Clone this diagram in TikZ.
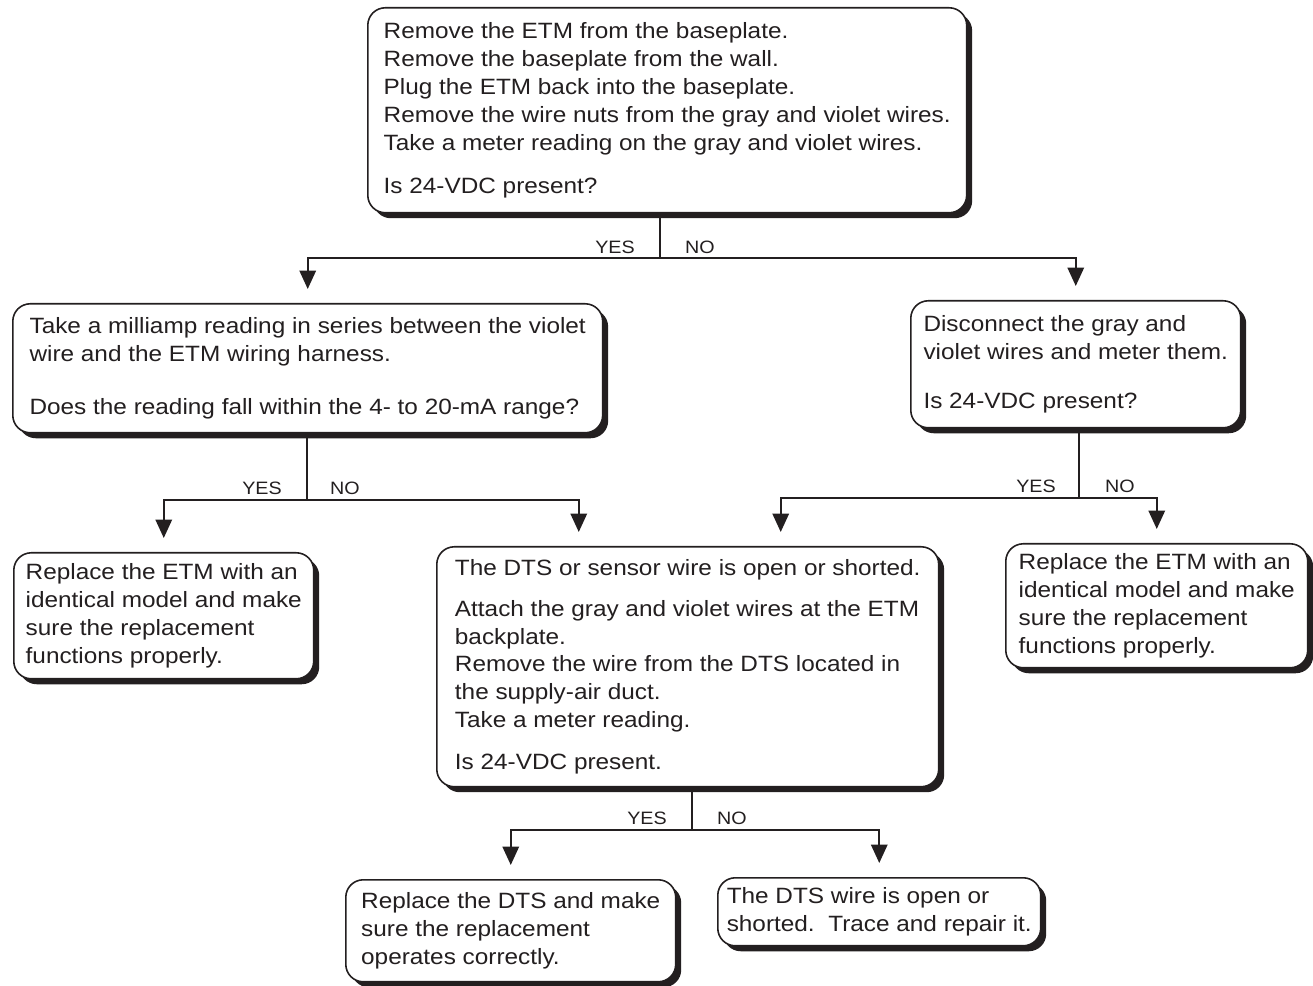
\documentclass[tikz,border=0pt]{standalone}
\usepackage{fontspec}
\setmainfont{Liberation Sans}[FakeStretch=1.1]
\usepackage{xcolor}
\usetikzlibrary{arrows.meta,shadows}
\definecolor{ink}{HTML}{231F20}

\tikzset{
  taskbox/.style={draw=ink, line width=0.9pt, fill=white, rounded corners=0.35cm,
    drop shadow={shadow xshift=0.11cm, shadow yshift=-0.11cm, fill=ink, opacity=1},
    align=left, anchor=north west, inner sep=0pt, text=ink,
    font=\fontsize{12.6}{15.9}\selectfont},
  wire/.style={draw=ink, line width=1.1pt},
  flow/.style={wire, -{Triangle[width=0.33cm,length=0.37cm]}, shorten >=0.28cm},
  tag/.style={text=ink, inner sep=1pt, font=\fontsize{10.2}{12}\selectfont}
}

\begin{document}
\begin{tikzpicture}[x=0.02cm, y=-0.02cm]
\useasboundingbox (0,0) rectangle (1313,986);

% Draw the boxes
\node[taskbox, minimum width=11.98cm, minimum height=4.1cm] (etm) at (367,7)
  {Remove the ETM from the baseplate.\\
   Remove the baseplate from the wall.\\
   Plug the ETM back into the baseplate.\\
   Remove the wire nuts from the gray and violet wires.\\
   Take a meter reading on the gray and violet wires.\\[0.3cm]
   Is 24-VDC present?};
\node[taskbox, minimum width=11.8cm, minimum height=2.58cm] (mamp) at (12,303)
  {Take a milliamp reading in series between the violet\\
   wire and the ETM wiring harness.\\[0.52cm]
   Does the reading fall within the 4- to 20-mA range?};
\node[taskbox, minimum width=6.6cm, minimum height=2.54cm] (discon) at (910,300)
  {Disconnect the gray and\\
   violet wires and meter them.\\[0.42cm]
   Is 24-VDC present?};
\node[taskbox, minimum width=6cm, minimum height=2.52cm] (repl) at (13,552)
  {Replace the ETM with an\\
   identical model and make\\
   sure the replacement\\
   functions properly.};
\node[taskbox, minimum width=10.04cm, minimum height=4.8cm] (dts) at (436,546)
  {The DTS or sensor wire is open or shorted.\\[0.26cm]
   Attach the gray and violet wires at the ETM\\
   backplate.\\
   Remove the wire from the DTS located in\\
   the supply-air duct.\\
   Take a meter reading.\\[0.28cm]
   Is 24-VDC present.};
\node[taskbox, minimum width=6.04cm, minimum height=2.48cm] (repr) at (1005,543)
  {Replace the ETM with an\\
   identical model and make\\
   sure the replacement\\
   functions properly.};
\node[taskbox, minimum width=6.6cm, minimum height=2.04cm] (repdts) at (345,879)
  {Replace the DTS and make\\
   sure the replacement\\
   operates correctly.};
\node[taskbox, minimum width=6.46cm, minimum height=1.36cm] (trace) at (717,877)
  {The DTS wire is open or\\
   shorted.\ \ Trace and repair it.};

% Branch points
\coordinate (b1) at (660,258);
\coordinate (b2) at (307,500);
\coordinate (b3) at (1079,498);
\coordinate (b4) at (692,830);

% Connectors
\draw[wire] (etm.south -| b1) -- (b1);
\draw[flow] (b1) -| (mamp.north);
\draw[flow] (b1) -| (discon.north);

\draw[wire] (mamp.south -| b2) -- (b2);
\draw[flow] (b2) -| (repl.north);
\draw[flow] (b2) -| ([xshift=-2.18cm]dts.north);

\draw[wire] (discon.south -| b3) -- (b3);
\draw[flow] (b3) -| ([xshift=1.86cm]dts.north);
\draw[flow] (b3) -| (repr.north);

\draw[wire] (dts.south -| b4) -- (b4);
\draw[flow] (b4) -| (repdts.north);
\draw[flow] (b4) -| (trace.north);

% Add yes/no labels
\node[tag] (yes1) at (615,247) {YES};
\node[tag] (no1) at (700,247) {NO};
\node[tag] (yes2) at (262,488) {YES};
\node[tag] (no2) at (345,488) {NO};
\node[tag] (yes3) at (1036,486) {YES};
\node[tag] (no3) at (1120,486) {NO};
\node[tag] (yes4) at (647,818) {YES};
\node[tag] (no4) at (732,818) {NO};
\end{tikzpicture}
\end{document}
